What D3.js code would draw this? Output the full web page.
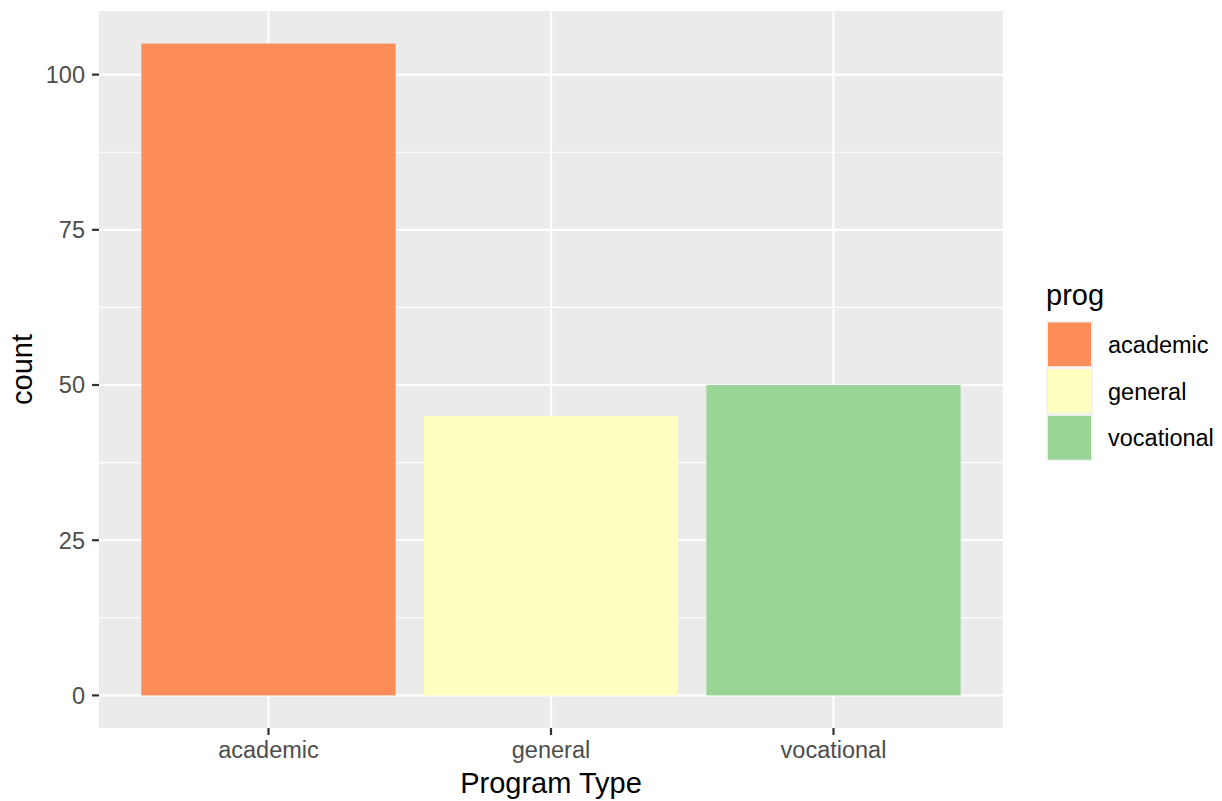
<!DOCTYPE html>
<html><head><meta charset="utf-8">
<script src="https://cdn.jsdelivr.net/npm/d3@7"></script>
<style>body{margin:0;background:#fff}text{font-family:"Liberation Sans",Arial,sans-serif}</style>
</head><body>
<svg id="c" width="1222" height="801"></svg>
<script>
const categories = ["academic","general","vocational"];
const counts = [105, 45, 50];
const colors = ["#FC8D59","#FFFFBF","#99D594"];
const yTicks = [0,25,50,75,100];
const yMinor = [12.5,37.5,62.5,87.5];

const svg = d3.select("#c");
const L=99, R=1003, T=11, B=728;
// ggplot: discrete expansion 0.6 units each side, bar width 0.9
const x = d3.scaleLinear().domain([0.4,3.6]).range([L,R]);
const xc = c => x(categories.indexOf(c)+1);
const y = d3.scaleLinear().domain([-5.25,110.25]).range([B,T]);

svg.append("rect").attr("x",L).attr("y",T).attr("width",R-L).attr("height",B-T).attr("fill","#EBEBEB");
const g = svg.append("g");
yMinor.forEach(v=>g.append("line").attr("x1",L).attr("x2",R).attr("y1",y(v)).attr("y2",y(v)).attr("stroke","#fff").attr("stroke-width",1.1));
yTicks.forEach(v=>g.append("line").attr("x1",L).attr("x2",R).attr("y1",y(v)).attr("y2",y(v)).attr("stroke","#fff").attr("stroke-width",2.2));
categories.forEach(c=>g.append("line").attr("x1",xc(c)).attr("x2",xc(c)).attr("y1",T).attr("y2",B).attr("stroke","#fff").attr("stroke-width",2.2));

svg.selectAll("rect.bar").data(categories).enter().append("rect").attr("class","bar")
  .attr("x",(c,i)=>x(i+1-0.45)).attr("width",(c,i)=>x(i+1+0.45)-x(i+1-0.45))
  .attr("y",(c,i)=>y(counts[i])).attr("height",(c,i)=>y(0)-y(counts[i]))
  .attr("fill",(c,i)=>colors[i]);

// y axis
yTicks.forEach(v=>{
  svg.append("line").attr("x1",L-7).attr("x2",L).attr("y1",y(v)).attr("y2",y(v)).attr("stroke","#333").attr("stroke-width",2.2);
  svg.append("text").attr("x",L-14).attr("y",y(v)).attr("dy","0.36em").attr("text-anchor","end")
    .attr("font-size",23.5).attr("fill","#4D4D4D").text(v);
});
categories.forEach(c=>{
  svg.append("line").attr("x1",xc(c)).attr("x2",xc(c)).attr("y1",B).attr("y2",B+7).attr("stroke","#333").attr("stroke-width",2.2);
  svg.append("text").attr("x",xc(c)).attr("y",758).attr("text-anchor","middle")
    .attr("font-size",23.5).attr("fill","#4D4D4D").text(c);
});
svg.append("text").attr("x",(L+R)/2).attr("y",793).attr("text-anchor","middle").attr("font-size",29).attr("fill","#000").text("Program Type");
svg.append("text").attr("transform",`translate(32,${(T+B)/2}) rotate(-90)`).attr("text-anchor","middle").attr("font-size",29).attr("fill","#000").text("count");

// legend
svg.append("text").attr("x",1046).attr("y",305).attr("font-size",29).attr("fill","#000").text("prog");
const kh = 46.7;
categories.forEach((c,i)=>{
  const ky = 321 + i*kh;
  svg.append("rect").attr("x",1046).attr("y",ky).attr("width",47).attr("height",kh).attr("fill","#F2F2F2");
  svg.append("rect").attr("x",1048).attr("y",ky+1.5).attr("width",43).attr("height",kh-3).attr("fill",colors[i]);
  svg.append("text").attr("x",1108).attr("y",ky+kh/2).attr("dy","0.36em").attr("font-size",23.5).attr("fill","#000").text(c);
});
</script>
</body></html>
